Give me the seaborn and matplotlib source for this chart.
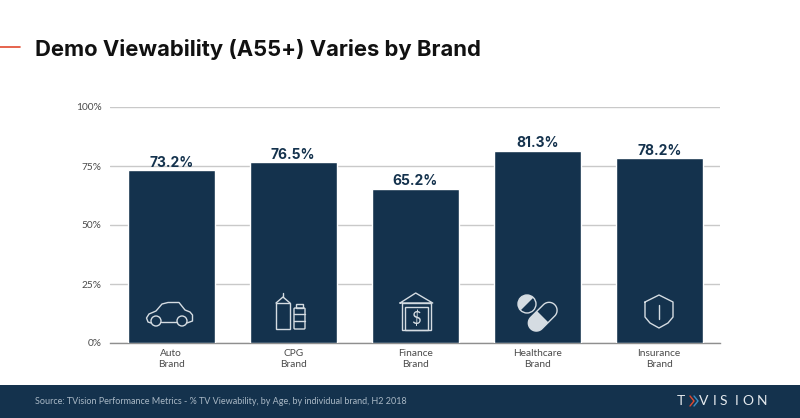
"""
Demo viewability by brand, bar chart with small line icons inside the bars.
"""

import numpy as np
import pandas as pd
import matplotlib.pyplot as plt
from matplotlib.patches import Circle, FancyBboxPatch, Polygon, Rectangle, Wedge
import seaborn as sns

brands = ['Auto\nBrand', 'CPG\nBrand', 'Finance\nBrand', 'Healthcare\nBrand', 'Insurance\nBrand']
viewability = [73.2, 76.5, 65.2, 81.3, 78.2]
y_ticks = [0, 25, 50, 75, 100]
y_tick_labels = ['0%', '25%', '50%', '75%', '100%']

navy = '#14324d'
icon_color = '#d5dce2'

sns.set_theme(style='white')
plt.rcParams['font.family'] = ['Lato', 'Open Sans', 'DejaVu Sans']

W, H = 800, 418
fig = plt.figure(figsize=(W / 100, H / 100), dpi=100, facecolor='white')

# main axes placed by pixel position
ax = fig.add_axes([110 / W, 1 - 343 / H, 610 / W, 236 / H])
df = pd.DataFrame({'brand': brands, 'value': viewability})
sns.barplot(data=df, x='brand', y='value', color=navy, saturation=1, width=0.716, ax=ax, zorder=3)
ax.set_xlim(-0.502, 4.498)
ax.set_ylim(0, 100)
ax.set_xlabel('')
ax.set_ylabel('')
ax.set_yticks(y_ticks)
ax.set_yticklabels(y_tick_labels, fontsize=7.3, color='#4a4a4a')
ax.set_xticks(range(len(brands)))
ax.set_xticklabels(brands, fontsize=7.3, color='#4a4a4a', linespacing=1.3)
ax.tick_params(axis='x', length=0, pad=4)
ax.tick_params(axis='y', length=0, pad=6)
ax.yaxis.grid(True, color='#c9c9c9', linewidth=1)
ax.set_axisbelow(True)
for side in ['top', 'left', 'right']:
    ax.spines[side].set_visible(False)
ax.spines['bottom'].set_color('#8f8f8f')
ax.spines['bottom'].set_linewidth(1)

for i, v in enumerate(viewability):
    ax.text(i, v + 0.3, f'{v:.1f}%', ha='center', va='bottom', fontsize=10,
            fontweight='bold', family='Inter', color=navy, zorder=4)

# overlay in pixel coordinates for title, footer, icons
ov = fig.add_axes([0, 0, 1, 1], zorder=5)
ov.set_xlim(0, W)
ov.set_ylim(H, 0)
ov.axis('off')
ov.patch.set_alpha(0)

ov.plot([0, 20], [47, 47], color='#e2492f', lw=1.2)
ov.text(35, 49, 'Demo Viewability (A55+) Varies by Brand', fontsize=15.85, fontweight='bold',
        family='Inter', color='#111111', va='center', ha='left')

ov.add_patch(Rectangle((0, 385), W, 33, facecolor=navy, edgecolor='none'))
ov.text(35, 402, 'Source: TVision Performance Metrics - % TV Viewability, by Age, by individual brand, H2 2018',
        fontsize=6.45, color='#a9b8c5', va='center', ha='left')

# TVision wordmark, letters placed one by one for the wide tracking
ov.text(677, 401, 'T', fontsize=10, color='#e4e9ed', va='center', ha='left')
ov.plot([690, 694, 690], [396, 401, 406], color='#e2492f', lw=1)
ov.plot([694, 698, 694], [396, 401, 406], color='#3c8fc4', lw=1)
for letter, lx in zip('VISION', [699, 713, 720, 735, 742, 757]):
    ov.text(lx, 401, letter, fontsize=10, color='#e4e9ed', va='center', ha='left')

line = dict(color=icon_color, lw=1, solid_capstyle='round', solid_joinstyle='round')
patch = dict(facecolor='none', edgecolor=icon_color, lw=1)

# car
car_x = [151, 148, 146.5, 149, 156, 162, 168, 179, 185, 190, 192.5, 192.5, 187]
car_y = [323, 322, 318, 314, 311, 304, 302.5, 302.5, 310, 312, 315, 321, 323]
ov.plot(car_x, car_y, **line)
ov.plot([161, 177], [322, 322], **line)
ov.add_patch(Circle((156, 321), 5, **patch))
ov.add_patch(Circle((182, 321), 5, **patch))

# cpg bottle and can
ov.add_patch(Rectangle((276, 303), 14, 26, **patch))
ov.plot([276, 283, 290], [303, 297, 303], **line)
ov.plot([283, 283], [297, 293], **line)
ov.add_patch(FancyBboxPatch((294, 308), 11, 21, boxstyle='round,pad=0,rounding_size=1', **patch))
ov.add_patch(Rectangle((296, 304), 7, 4, **patch))
ov.plot([294, 305], [314, 314], **line)
ov.plot([294, 305], [321, 321], **line)

# finance: bank with dollar sign
ov.plot([400, 415.7, 432.7, 400], [303, 293, 303, 303], **line)
ov.add_patch(Rectangle((402, 303), 29, 27, **patch))
ov.add_patch(Rectangle((405, 307), 23, 23, **patch))
ov.text(415.7, 319, '$', fontsize=12, color=icon_color, ha='center', va='center')

# healthcare: pills
ov.add_patch(Circle((527, 304), 9, **patch))
ov.add_patch(Wedge((527, 304), 9, 135, 315, facecolor=icon_color, edgecolor='none'))
cx, cy = 542.7, 316.7
r = 8
across = r * np.array([1, 1]) / np.sqrt(2)
a = np.array([cx, cy]) + 9 * np.array([1, -1]) / np.sqrt(2)
b = np.array([cx, cy]) - 9 * np.array([1, -1]) / np.sqrt(2)
ang = np.linspace(-3 * np.pi / 4, np.pi / 4, 30)
outline_a = np.c_[a[0] + r * np.cos(ang), a[1] + r * np.sin(ang)]
outline_b = np.c_[b[0] - r * np.cos(ang), b[1] - r * np.sin(ang)]
ov.add_patch(Polygon(np.r_[outline_a, outline_b], **patch))
ov.add_patch(Polygon(np.r_[[np.array([cx, cy]) + across], outline_b, [np.array([cx, cy]) - across]],
                     facecolor=icon_color, edgecolor='none'))

# insurance: shield
sh_x = [645, 659, 673, 673, 668, 659, 650, 645, 645]
sh_y = [302, 295, 302, 317, 323, 328, 323, 317, 302]
ov.plot(sh_x, sh_y, **line)
ov.plot([659, 659], [305, 319], **line)

fig.savefig('out.png', dpi=100)
